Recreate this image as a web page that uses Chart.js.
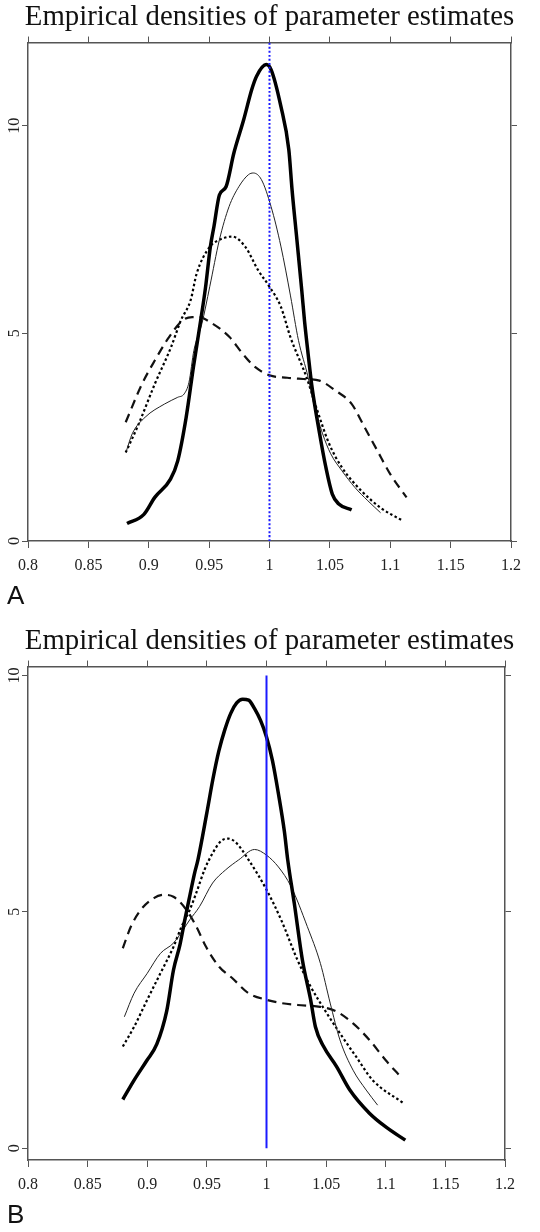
<!DOCTYPE html>
<html>
<head>
<meta charset="utf-8">
<script src="https://cdn.jsdelivr.net/npm/chart.js@4.4.0/dist/chart.umd.min.js"></script>
<style>
  body { margin: 0; background: #fff; }
  .panel { position: absolute; left: 0; }
  #panelA { top: 0; }
  #panelB { top: 624px; }
</style>
</head>
<body>
<div class="panel" id="panelA"><canvas id="chartA" width="540" height="624"></canvas></div>
<div class="panel" id="panelB"><canvas id="chartB" width="540" height="608"></canvas></div>
<script>
// true parameter value (vertical blue line)
const trueValue = 1;
const aRefY = [0, 12];
const bRefY = [0, 10];

// Panel A curves
const aThickX = [0.882, 0.896, 0.905, 0.918, 0.924, 0.931, 0.937, 0.943, 0.947, 0.951, 0.954, 0.9585, 0.964, 0.9705, 0.9786, 0.9853, 0.9893, 0.9973, 1.0013, 1.0094, 1.016, 1.0187, 1.0227, 1.0267, 1.029, 1.032, 1.035, 1.0414, 1.0467, 1.052, 1.0574, 1.068];
const aThickY = [0.42, 0.64, 1.05, 1.49, 1.93, 2.98, 4.19, 5.31, 6.1, 7.08, 7.57, 8.33, 8.53, 9.34, 10.14, 10.87, 11.19, 11.47, 11.35, 10.47, 9.42, 8.45, 7.25, 6.04, 5.3, 4.5, 3.75, 2.6, 1.77, 1.13, 0.89, 0.75];

const aThinX = [0.8815, 0.8863, 0.897, 0.9132, 0.924, 0.9293, 0.9333, 0.9374, 0.944, 0.9505, 0.9585, 0.9665, 0.9746, 0.9826, 0.9866, 0.9933, 1.0013, 1.0094, 1.0174, 1.024, 1.032, 1.036, 1.044, 1.0507, 1.06, 1.0707, 1.0814, 1.092];
const aThinY = [2.17, 2.58, 2.98, 3.3, 3.46, 3.54, 3.82, 4.59, 5.23, 6.12, 7.25, 8.05, 8.53, 8.82, 8.86, 8.7, 8.05, 7.1, 5.9, 4.83, 3.94, 3.38, 2.58, 2.1, 1.69, 1.29, 0.97, 0.68];

const aDotX = [0.8809, 0.8917, 0.905, 0.9185, 0.9266, 0.9347, 0.9397, 0.9505, 0.9585, 0.9692, 0.98, 0.9906, 1.0, 1.0094, 1.0174, 1.0307, 1.0387, 1.0494, 1.06, 1.076, 1.092, 1.1108];
const aDotY = [2.13, 2.82, 3.78, 4.67, 5.31, 5.8, 6.44, 7.08, 7.25, 7.33, 7.08, 6.52, 6.12, 5.64, 4.9, 3.94, 3.22, 2.34, 1.77, 1.21, 0.8, 0.48];

const aDashX = [0.8809, 0.8944, 0.9051, 0.9159, 0.928, 0.936, 0.9414, 0.9508, 0.9669, 0.978, 0.988, 1.0, 1.0147, 1.028, 1.0414, 1.0547, 1.068, 1.0787, 1.0894, 1.1, 1.1135];
const aDashY = [2.86, 3.78, 4.35, 4.87, 5.31, 5.39, 5.39, 5.27, 4.91, 4.5, 4.19, 3.99, 3.93, 3.9, 3.86, 3.62, 3.3, 2.74, 2.17, 1.61, 1.05];

// Panel B curves
const bThickX = [0.8795, 0.889, 0.8995, 0.908, 0.9163, 0.922, 0.9274, 0.9315, 0.9356, 0.9397, 0.9425, 0.95, 0.955, 0.96, 0.965, 0.97, 0.975, 0.98, 0.985, 0.99, 0.995, 1.0, 1.005, 1.01, 1.015, 1.0178, 1.0233, 1.0301, 1.037, 1.041, 1.0479, 1.0589, 1.0699, 1.0863, 1.1, 1.1164];
const bThickY = [1.03, 1.44, 1.85, 2.2, 2.9, 3.77, 4.3, 4.83, 5.33, 5.82, 6.1, 7.1, 7.8, 8.4, 8.85, 9.2, 9.42, 9.5, 9.48, 9.3, 9.05, 8.7, 8.2, 7.5, 6.7, 6.1, 5.18, 3.98, 3.14, 2.57, 2.15, 1.72, 1.23, 0.74, 0.45, 0.17];

const bThinX = [0.8808, 0.889, 0.9, 0.911, 0.922, 0.93, 0.9356, 0.9438, 0.9548, 0.9658, 0.9767, 0.99, 1.0, 1.01, 1.0205, 1.0342, 1.0452, 1.0534, 1.0616, 1.0726, 1.0836, 1.0932];
const bThinY = [2.78, 3.28, 3.7, 4.12, 4.34, 4.62, 4.83, 5.11, 5.61, 5.89, 6.1, 6.32, 6.2, 5.95, 5.54, 4.69, 3.91, 3.07, 2.29, 1.65, 1.23, 0.91];

const bDotX = [0.8795, 0.889, 0.9, 0.911, 0.922, 0.9288, 0.9356, 0.9411, 0.948, 0.955, 0.962, 0.968, 0.975, 0.985, 1.0, 1.0123, 1.026, 1.037, 1.0507, 1.0616, 1.0753, 1.089, 1.115];
const bDotY = [2.15, 2.57, 3.14, 3.7, 4.26, 4.69, 5.04, 5.4, 5.89, 6.25, 6.5, 6.55, 6.45, 6.1, 5.47, 4.83, 3.98, 3.42, 2.85, 2.43, 1.93, 1.44, 0.95];

const bDashX = [0.8795, 0.8863, 0.8945, 0.9055, 0.9137, 0.922, 0.9329, 0.9411, 0.9493, 0.9603, 0.9712, 0.9849, 1.0, 1.0123, 1.026, 1.045, 1.0589, 1.0726, 1.0863, 1.1, 1.1137];
const bDashY = [4.23, 4.69, 5.04, 5.29, 5.36, 5.32, 5.04, 4.69, 4.26, 3.84, 3.6, 3.28, 3.14, 3.07, 3.03, 2.99, 2.89, 2.64, 2.29, 1.86, 1.48];

const xMin = 0.8, xMax = 1.2, xStep = 0.05;

const serif = 'Liberation Serif, "Times New Roman", serif';
const frame = '#555';

function pts(xs, ys) {
  return xs.map((x, i) => ({ x: x, y: ys[i] }));
}

function curve(xs, ys, width, dash, color) {
  return {
    data: pts(xs, ys),
    borderColor: color || '#000',
    borderWidth: width,
    borderDash: dash || [],
    pointRadius: 0,
    cubicInterpolationMode: 'monotone',
    fill: false,
    borderJoinStyle: 'round'
  };
}

function makeChart(id, o) {
  const ctx = document.getElementById(id).getContext('2d');
  const grid = { display: true, drawOnChartArea: false, drawTicks: true, tickLength: 6, color: frame, lineWidth: 1 };
  const border = { display: true, color: frame, width: 1.5 };
  const xTicks = { stepSize: xStep, includeBounds: false, autoSkip: false, maxRotation: 0 };
  const yTicks = { stepSize: 5, includeBounds: false };

  new Chart(ctx, {
    type: 'line',
    data: {
      datasets: [
        o.refLine,
        curve(o.thick[0], o.thick[1], 3.5),
        curve(o.thin[0], o.thin[1], 1, [], '#222'),
        curve(o.dot[0], o.dot[1], 2.2, [2.5, 2.5]),
        curve(o.dash[0], o.dash[1], 2.2, [9, 6], '#111')
      ]
    },
    options: {
      responsive: false,
      animation: false,
      devicePixelRatio: 1,
      // right padding keeps the title centred over the plot like the original
      layout: { padding: { left: 7, right: 8, top: 0, bottom: o.padBottom } },
      plugins: {
        legend: { display: false },
        tooltip: { enabled: false },
        title: {
          display: true,
          text: 'Empirical densities of parameter estimates',
          font: { family: serif, size: 28.8, weight: 'normal' },
          color: '#111',
          padding: { top: 0, bottom: 2 }
        },
        subtitle: {
          display: true,
          text: o.label,
          position: 'bottom',
          align: 'start',
          font: { family: 'Liberation Sans, Arial, sans-serif', size: 26, weight: 'normal' },
          color: '#111',
          padding: { top: 0, bottom: 0 }
        }
      },
      scales: {
        x: {
          type: 'linear', position: 'bottom', min: xMin, max: xMax,
          afterFit: s => { s.height = 40; },
          ticks: Object.assign({}, xTicks, {
            padding: 8, color: '#222',
            font: { family: serif, size: 16 },
            callback: v => String(Math.round(v * 100) / 100)
          }),
          grid: Object.assign({}, grid, { tickLength: 7 }),
          border: border
        },
        x2: {
          type: 'linear', position: 'top', axis: 'x', min: xMin, max: xMax,
          afterFit: s => { s.height = 6; },
          ticks: Object.assign({}, xTicks, { display: false }),
          grid: grid,
          border: border
        },
        y: {
          type: 'linear', position: 'left', min: o.yMin, max: o.yMax,
          afterFit: s => { s.width = 21; },
          ticks: Object.assign({}, yTicks, {
            minRotation: 90, maxRotation: 90, crossAlign: 'center',
            padding: -1, color: '#222',
            font: { family: serif, size: 16 }
          }),
          grid: grid,
          border: border
        },
        y2: {
          type: 'linear', position: 'right', axis: 'y', min: o.yMin, max: o.yMax,
          afterFit: s => { s.width = o.rightW; },
          ticks: Object.assign({}, yTicks, { display: false }),
          grid: grid,
          border: border
        }
      }
    }
  });
}

makeChart('chartA', {
  label: 'A', yMin: 0, yMax: 12, rightW: 21, padBottom: 11.8,
  refLine: curve([trueValue, trueValue], aRefY, 2, [2, 2], '#1a1aff'),
  thick: [aThickX, aThickY], thin: [aThinX, aThinY], dot: [aDotX, aDotY], dash: [aDashX, aDashY]
});

makeChart('chartB', {
  label: 'B', yMin: -0.25, yMax: 10.19, rightW: 27, padBottom: 0.8,
  refLine: curve([trueValue, trueValue], bRefY, 2, [], '#1a1aff'),
  thick: [bThickX, bThickY], thin: [bThinX, bThinY], dot: [bDotX, bDotY], dash: [bDashX, bDashY]
});
</script>
</body>
</html>
